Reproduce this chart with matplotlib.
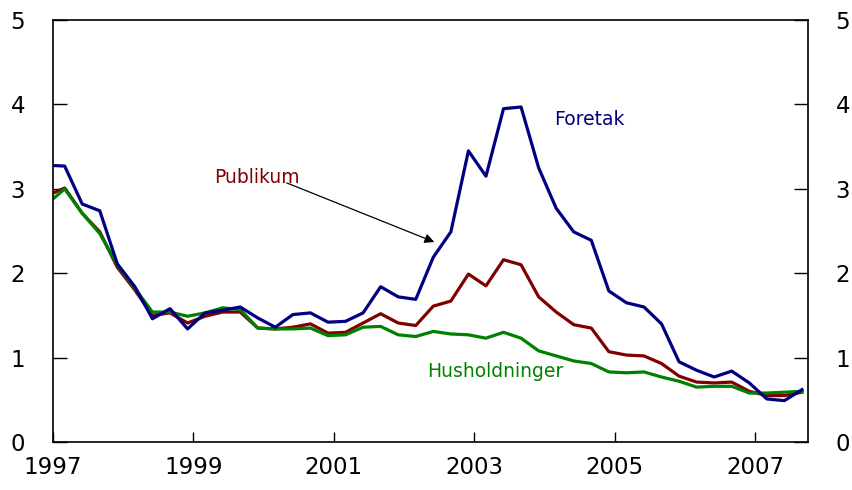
import numpy as np
import matplotlib.pyplot as plt

# quarterly observations, first one just before the axis start
start = 1996 + 11 / 12.0
n_obs = 44

foretak = [3.28, 3.27, 2.82, 2.74, 2.11, 1.84, 1.46, 1.58, 1.34, 1.53,
           1.56, 1.60, 1.47, 1.36, 1.51, 1.53, 1.42, 1.43, 1.53, 1.84,
           1.72, 1.69, 2.19, 2.49, 3.45, 3.15, 3.95, 3.97, 3.25, 2.77,
           2.49, 2.39, 1.79, 1.65, 1.60, 1.40, 0.95, 0.85, 0.77, 0.84,
           0.70, 0.51, 0.49, 0.62]
publikum = [2.92, 3.01, 2.71, 2.49, 2.07, 1.80, 1.50, 1.53, 1.41, 1.49,
            1.54, 1.54, 1.35, 1.34, 1.36, 1.40, 1.29, 1.30, 1.41, 1.52,
            1.41, 1.38, 1.61, 1.67, 1.99, 1.85, 2.16, 2.10, 1.72, 1.54,
            1.39, 1.35, 1.07, 1.03, 1.02, 0.93, 0.78, 0.71, 0.70, 0.71,
            0.60, 0.55, 0.55, 0.59]
husholdninger = [2.82, 3.00, 2.71, 2.47, 2.10, 1.82, 1.54, 1.54, 1.49, 1.53,
                 1.59, 1.57, 1.35, 1.34, 1.34, 1.35, 1.26, 1.27, 1.36, 1.37,
                 1.27, 1.25, 1.31, 1.28, 1.27, 1.23, 1.30, 1.23, 1.08, 1.02,
                 0.96, 0.93, 0.83, 0.82, 0.83, 0.77, 0.72, 0.65, 0.66, 0.66,
                 0.58, 0.58, 0.59, 0.60]

year_ticks = [1997, 1999, 2001, 2003, 2005, 2007]
y_ticks = [0, 1, 2, 3, 4, 5]

dates = start + 0.25 * np.arange(n_obs)

fig = plt.figure(figsize=(8.53, 4.90), dpi=100)
ax = fig.add_axes([0.0621, 0.098, 0.8849, 0.861])

ax.plot(dates, publikum, color="#800000", lw=2.3)
ax.plot(dates, husholdninger, color="#008000", lw=2.3)
ax.plot(dates, foretak, color="#000080", lw=2.3)

ax.set_xlim(1997, 2007.75)
ax.set_ylim(0, 5)
ax.set_xticks(year_ticks)
ax.set_xticklabels([str(y) for y in year_ticks])
ax.set_yticks(y_ticks)

ax.tick_params(axis="x", direction="in", length=7, width=1, pad=10,
               labelsize=16.5)
ax.tick_params(axis="y", direction="in", length=10, width=1, pad=20,
               labelsize=16.5, left=True, right=True,
               labelleft=True, labelright=True)
for s in ax.spines.values():
    s.set_linewidth(1.2)

# series labels
ax.text(2004.14, 3.82, "Foretak", color="#000080", fontsize=13.5,
        va="center", ha="left")
ax.text(1999.30, 3.14, "Publikum", color="#800000", fontsize=13.5,
        va="center", ha="left")
ax.text(2002.33, 0.83, "Husholdninger", color="#008000", fontsize=13.5,
        va="center", ha="left")
ax.annotate("", xy=(2002.43, 2.37), xytext=(2000.33, 3.07),
            arrowprops=dict(arrowstyle="-|>", color="black", lw=0.9,
                            mutation_scale=14, shrinkA=0, shrinkB=0))

plt.savefig("out.png", dpi=100)
